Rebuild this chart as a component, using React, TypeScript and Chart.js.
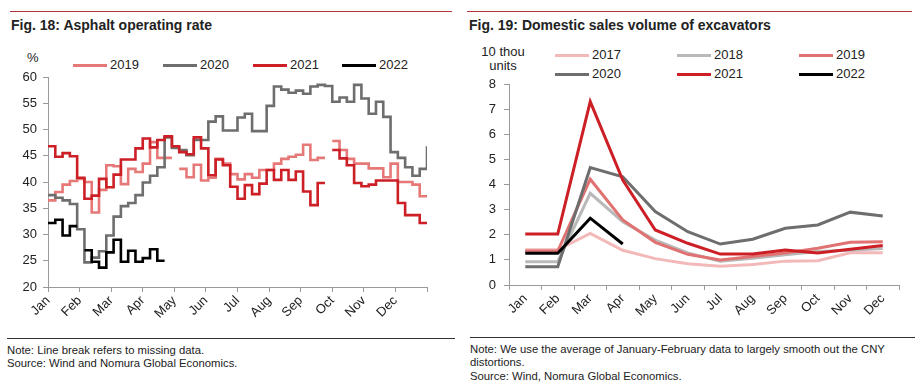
import React, { useEffect, useRef } from "react";
import { Chart, registerables } from "chart.js";
Chart.register(...registerables);

// ---------- Fig. 18 data (weekly asphalt operating rate, %) ----------
const monthLabels = ["Jan", "Feb", "Mar", "Apr", "May", "Jun", "Jul", "Aug", "Sep", "Oct", "Nov", "Dec"];
const asphaltYears = ["2019", "2020", "2021", "2022"];
const asphalt2019 = [36.5, 38.1, 39.5, 40.2, 40.6, 40.0, 34.2, 38.5, 43.2, 43.0,
  39.6, 42.5, 41.9, 43.5, 47.6, 44.6, 44.6, null, 42.5, 40.9,
  43.3, 40.3, 40.8, 44.4, 43.5, 41.5, 40.5, 41.5, 40.8, 42.3,
  42.3, 43.5, 44.4, 44.8, 45.2, 47.1, 44.2, 44.6, null, 47.8,
  46.1, 44.4, 43.5, 43.5, 42.6, 42.6, 40.9, 43.5, 40.0, 40.0,
  39.5, 37.3];
const asphalt2020 = [37.5, 37.0, 36.5, 35.8, 31.0, 24.7, 25.6, 26.8, 29.8, 33.4,
  35.4, 36.0, 37.5, 39.9, 41.2, 42.8, 48.5, 46.5, 46.1, 45.1,
  48.0, 48.0, 51.5, 52.5, 49.8, 49.8, 52.3, 53.0, 49.7, 49.7,
  54.5, 58.2, 57.6, 57.0, 57.4, 56.8, 58.2, 58.5, 58.3, 55.3,
  56.1, 55.3, 58.5, 55.9, 53.0, 55.3, 52.4, 45.7, 44.6, 42.8,
  41.2, 42.5, 46.8];
const asphalt2021 = [46.8, 44.8, 45.5, 44.9, 40.8, 36.8, 37.4, 40.6, 39.0, 41.4,
  44.3, 44.3, 46.4, 48.3, 46.6, 48.0, 48.7, 46.8, 45.7, 45.3,
  48.5, 46.4, 41.3, 44.3, 43.2, 39.1, 36.8, 39.4, 37.7, 39.7,
  42.3, 40.4, 42.3, 40.4, 42.0, 38.2, 35.6, 39.8, null, 46.1,
  44.5, 43.2, 39.8, 39.2, 39.5, 40.3, 40.3, 40.3, 36.0, 33.7,
  33.7, 32.2];
const asphalt2022 = [32.2, 32.8, 29.8, 31.6, null, 27.0, 24.8, 23.7, 26.6, 29.0,
  24.8, 26.9, 24.8, 25.5, 27.2, 25.0];
const asphaltTicks = [20, 25, 30, 35, 40, 45, 50, 55, 60];

// ---------- Fig. 19 data (excavator domestic sales, 10 thou units) ----------
const excYears = ["2017", "2018", "2019", "2020", "2021", "2022"];
const exc2017 = [1.40, 1.40, 2.05, 1.38, 1.05, 0.85, 0.75, 0.82, 0.95, 0.97, 1.28, 1.28];
const exc2018 = [0.93, 0.93, 3.65, 2.52, 1.79, 1.28, 0.95, 1.06, 1.20, 1.33, 1.38, 1.45];
const exc2019 = [1.35, 1.35, 4.21, 2.59, 1.70, 1.22, 1.00, 1.13, 1.27, 1.46, 1.70, 1.72];
const exc2020 = [0.73, 0.73, 4.67, 4.31, 2.92, 2.12, 1.63, 1.82, 2.26, 2.39, 2.90, 2.75];
const exc2021 = [2.03, 2.03, 7.30, 4.18, 2.19, 1.66, 1.23, 1.23, 1.39, 1.27, 1.42, 1.57];
const exc2022 = [1.26, 1.26, 2.66, 1.63];

const C = {
  a2019: "#e67878",
  a2020: "#6e6e6e",
  a2021: "#cc1f26",
  a2022: "#000000",
  e2017: "#f3b9b9",
  e2018: "#b9b9b9",
  e2019: "#e07272",
  e2020: "#6e6e6e",
  e2021: "#cc1f26",
  e2022: "#000000",
};

const FONT = "'Liberation Sans', Arial, Helvetica, sans-serif";
const WEEKS = 52;

// Turn weekly values into a step line: each week's value holds for the whole week.
function stepPoints(values: (number | null)[]) {
  const pts: { x: number; y: number | null }[] = [];
  values.forEach((v, w) => {
    const x0 = (w * 12) / WEEKS;
    const x1 = ((w + 1) * 12) / WEEKS;
    if (v === null) {
      pts.push({ x: (x0 + x1) / 2, y: null });
    } else {
      pts.push({ x: x0, y: v }, { x: x1, y: v });
    }
  });
  return pts;
}

const tickFont = { family: FONT, size: 13 };
const axisColor = "#9a9a9a";

function AsphaltChart() {
  const ref = useRef<HTMLCanvasElement>(null);
  useEffect(() => {
    if (!ref.current) return;
    const series = [asphalt2019, asphalt2020, asphalt2021, asphalt2022];
    const colors = [C.a2019, C.a2020, C.a2021, C.a2022];
    const chart = new Chart(ref.current, {
      type: "line",
      data: {
        datasets: asphaltYears.map((y, i) => ({
          label: y,
          data: stepPoints(series[i]) as any,
          borderColor: colors[i],
          backgroundColor: colors[i],
          borderWidth: 2.6,
          pointRadius: 0,
          tension: 0,
          spanGaps: false,
          borderJoinStyle: "miter" as const,
          order: 3 - i,
        })),
      },
      options: {
        animation: false,
        responsive: false,
        events: [],
        layout: { padding: { top: 17, right: 31, left: 0, bottom: 0 } },
        plugins: { legend: { display: false }, tooltip: { enabled: false } },
        scales: {
          x: {
            type: "linear",
            min: 0,
            max: 12,
            afterFit: (s: any) => { s.height = 48; },
            afterBuildTicks: (s: any) => {
              s.ticks = Array.from({ length: 13 }, (_, i) => ({ value: i }));
            },
            grid: { display: true, drawOnChartArea: false, drawTicks: true, tickLength: 5, color: axisColor },
            border: { display: true, color: axisColor },
            ticks: {
              autoSkip: false,
              minRotation: 45,
              maxRotation: 45,
              padding: 1,
              color: "#222",
              font: tickFont,
              callback: (v: any) => monthLabels[Number(v)] ?? "",
            },
          },
          y: {
            min: asphaltTicks[0],
            max: asphaltTicks[asphaltTicks.length - 1],
            afterFit: (s: any) => { s.width = 48; },
            afterBuildTicks: (s: any) => { s.ticks = asphaltTicks.map((v) => ({ value: v })); },
            grid: { display: true, drawOnChartArea: false, drawTicks: true, tickLength: 5, color: axisColor },
            border: { display: true, color: axisColor },
            ticks: { padding: 6, color: "#222", font: tickFont },
          },
        },
      },
    });
    return () => chart.destroy();
  }, []);
  return <canvas ref={ref} width={458} height={275} style={{ position: "absolute", left: 0, top: 60 }} />;
}

function ExcavatorChart() {
  const ref = useRef<HTMLCanvasElement>(null);
  useEffect(() => {
    if (!ref.current) return;
    const series = [exc2017, exc2018, exc2019, exc2020, exc2021, exc2022];
    const colors = [C.e2017, C.e2018, C.e2019, C.e2020, C.e2021, C.e2022];
    const chart = new Chart(ref.current, {
      type: "line",
      data: {
        labels: monthLabels,
        datasets: excYears.map((y, i) => ({
          label: y,
          data: series[i],
          borderColor: colors[i],
          backgroundColor: colors[i],
          borderWidth: 3,
          pointRadius: 0,
          tension: 0,
          order: 5 - i,
        })),
      },
      options: {
        animation: false,
        responsive: false,
        events: [],
        layout: { padding: { top: 24, right: 19, left: 0, bottom: 0 } },
        plugins: { legend: { display: false }, tooltip: { enabled: false } },
        scales: {
          x: {
            type: "category",
            offset: true,
            afterFit: (s: any) => { s.height = 50; },
            grid: { display: true, offset: true, drawOnChartArea: false, drawTicks: true, tickLength: 5, color: axisColor },
            border: { display: true, color: axisColor },
            ticks: {
              autoSkip: false,
              minRotation: 45,
              maxRotation: 45,
              padding: 1,
              color: "#222",
              font: tickFont,
            },
          },
          y: {
            min: 0,
            max: 8,
            afterFit: (s: any) => { s.width = 49; },
            grid: { display: true, drawOnChartArea: false, drawTicks: true, tickLength: 5, color: axisColor },
            border: { display: true, color: axisColor },
            ticks: { stepSize: 1, padding: 8, color: "#222", font: tickFont },
          },
        },
      },
    });
    return () => chart.destroy();
  }, []);
  return <canvas ref={ref} width={458} height={275} style={{ position: "absolute", left: 460, top: 60 }} />;
}

function LegendItem({ left, top, color, label }: { left: number; top: number; color: string; label: string }) {
  return (
    <>
      <div style={{ position: "absolute", left, top: top - 1.5, width: 34, height: 3, background: color }} />
      <div style={{ position: "absolute", left: left + 37, top: top - 8, fontSize: 13, lineHeight: "16px", color: "#222" }}>{label}</div>
    </>
  );
}

export default function App() {
  const text = { position: "absolute" as const, color: "#222", whiteSpace: "nowrap" as const };
  const note = { ...text, fontSize: 11.3, lineHeight: "13px" };
  return (
    <div style={{ position: "absolute", left: 0, top: 0, width: 918, height: 391, background: "#fff", fontFamily: FONT, overflow: "hidden" }}>
      {/* top rules */}
      <div style={{ position: "absolute", left: 10, top: 11, width: 442, height: 1, background: "#b0343a" }} />
      <div style={{ position: "absolute", left: 467, top: 11, width: 445, height: 1, background: "#b0343a" }} />
      {/* titles */}
      <div style={{ ...text, left: 11, top: 17, fontSize: 14, fontWeight: "bold", lineHeight: "17px" }}>Fig. 18: Asphalt operating rate</div>
      <div style={{ ...text, left: 469, top: 17, fontSize: 14, fontWeight: "bold", lineHeight: "17px" }}>Fig. 19: Domestic sales volume of excavators</div>

      {/* left units + legend */}
      <div style={{ ...text, left: 27, top: 50, fontSize: 13, lineHeight: "16px" }}>%</div>
      <LegendItem left={73} top={65} color={C.a2019} label="2019" />
      <LegendItem left={163} top={65} color={C.a2020} label="2020" />
      <LegendItem left={253} top={65} color={C.a2021} label="2021" />
      <LegendItem left={342} top={65} color={C.a2022} label="2022" />

      {/* right units + legend */}
      <div style={{ ...text, left: 478, top: 45, fontSize: 13, lineHeight: "14px", textAlign: "center", width: 50 }}>10 thou<br />units</div>
      <LegendItem left={555} top={55} color={C.e2017} label="2017" />
      <LegendItem left={677} top={55} color={C.e2018} label="2018" />
      <LegendItem left={799} top={55} color={C.e2019} label="2019" />
      <LegendItem left={555} top={74} color={C.e2020} label="2020" />
      <LegendItem left={677} top={74} color={C.e2021} label="2021" />
      <LegendItem left={799} top={74} color={C.e2022} label="2022" />

      <AsphaltChart />
      <ExcavatorChart />

      {/* bottom rules and notes */}
      <div style={{ position: "absolute", left: 7, top: 338, width: 448, height: 1, background: "#333" }} />
      <div style={{ position: "absolute", left: 470, top: 337, width: 445, height: 1, background: "#333" }} />
      <div style={{ ...note, left: 7, top: 344 }}>Note: Line break refers to missing data.</div>
      <div style={{ ...note, left: 7, top: 357 }}>Source: Wind and Nomura Global Economics.</div>
      <div style={{ ...note, left: 470, top: 343 }}>Note: We use the average of January-February data to largely smooth out the CNY</div>
      <div style={{ ...note, left: 470, top: 356 }}>distortions.</div>
      <div style={{ ...note, left: 470, top: 370 }}>Source: Wind, Nomura Global Economics.</div>
    </div>
  );
}
